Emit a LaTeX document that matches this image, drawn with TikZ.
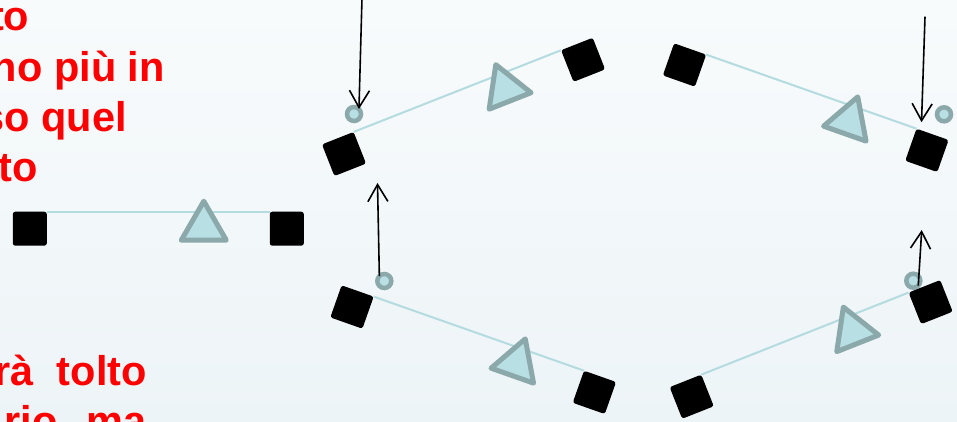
\documentclass[tikz,border=0pt]{standalone}
\usepackage{fontspec}
\setmainfont{Liberation Sans}
\usetikzlibrary{arrows.meta,positioning,shapes.geometric}
\definecolor{BondBlue}{HTML}{B4DCE0}
\definecolor{MarkFill}{HTML}{B8DFE3}
\definecolor{MarkEdge}{HTML}{8BA8AB}
\definecolor{NoteRed}{HTML}{FF0000}
\definecolor{SkyTop}{HTML}{F8FBFC}
\definecolor{SkyBottom}{HTML}{EDF4F7}

\begin{document}
\begin{tikzpicture}[
  x=1pt, y=-1pt,
  node distance=223pt,
  block/.style={fill=black, rounded corners=2.5pt, minimum size=34pt,
    inner sep=0pt, outer sep=0pt},
  marker/.style={regular polygon, regular polygon sides=3, draw=MarkEdge,
    fill=MarkFill, line width=5pt, line join=round, minimum size=52pt,
    inner sep=0pt, outer sep=0pt},
  bond/.style={draw=BondBlue, line width=2pt},
  ring/.style={circle, draw=MarkEdge, fill=MarkFill, line width=4.5pt,
    minimum size=14pt, inner sep=0pt, outer sep=0pt},
  force/.style={-{Straight Barb[length=17pt,width=20pt]}, line width=1.6pt},
  note/.style={text=NoteRed, font=\fontsize{41.5}{50}\selectfont\bfseries,
    anchor=base east, inner sep=0pt}
]
\clip (0,0) rectangle (957,421);
\shade[top color=SkyTop, bottom color=SkyBottom] (0,0) rectangle (957,421);

% text cut at the left edge
\node[note] (noteA) at (29.5,30) {to};
\node[note] (noteB) at (165,81.7) {no più in};
\node[note] (noteC) at (127,131.7) {so quel};
\node[note] (noteD) at (38,181.7) {to};
\node[note] (noteE) at (147,385) {rà\ \ tolto};
\node[note] (noteF) at (147,435) {rio\hspace{29pt}ma};

% small rings
\node[ring] (ringA) at (354,114) {};
\node[ring] (ringD) at (944,114.3) {};
\node[ring] (ringE) at (384.3,281) {};
\node[ring] (ringH) at (913.3,280.7) {};

% square - triangle - square units
\foreach \n/\px/\py/\ang in {lf/29.8/228.7/0, tl/344/154/21.5,
    tr/684.5/65/-19.4, bl/352/307/-19.4, br/691.7/396.7/21.6}{
  \begin{scope}[shift={(\px,\py)}, rotate=\ang, transform shape]
    \node[block] (\n-a) at (0,0) {};
    \node[block, right=of \n-a] (\n-b) {};
    \draw[bond] (\n-a.north east) -- (\n-b.north west);
    \node[marker] (\n-t) at (174,-1.5) {};
  \end{scope}
}

% arrows
\coordinate (pushA) at (362,-2);
\coordinate (pushD) at (925,16.7);
\coordinate (pullE) at (377.5,183);
\coordinate (pullH) at (921.7,230);
\draw[force] (pushA) -- (ringA.north east);
\draw[force] (pushD) -- ([shift={(5,-6.5)}]tr-b.north west);
\draw[force] (ringE.north west) -- (pullE);
\draw[force] (ringH.south east) -- (pullH);
\end{tikzpicture}
\end{document}
